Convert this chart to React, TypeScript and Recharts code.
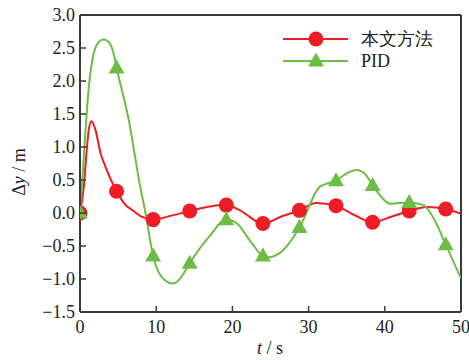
import React from "react";
import { LineChart, Line, XAxis, YAxis, ReferenceLine } from "recharts";

// Marker sample times (s)
const markerTimes = [0, 4.8, 9.6, 14.4, 19.2, 24, 28.8, 33.6, 38.4, 43.2, 48];
// Marker values
const oursMarkers = [0, 0.33, -0.1, 0.03, 0.12, -0.16, 0.04, 0.11, -0.14, 0.03, 0.06];
const pidMarkers = [0, 2.2, -0.65, -0.76, -0.1, -0.65, -0.22, 0.49, 0.42, 0.16, -0.48];

// Curve samples (s, m)
const oursT = [0, 0.5, 0.85, 1.15, 1.5, 2.03, 2.69, 3.34, 4.8, 6.0, 6.8, 8.0, 9.6, 12, 14.4, 17, 19.2, 21, 24, 26.5, 28.8, 31, 33.6, 36, 38.4, 41, 43.2, 45.5, 48, 50];
const oursY = [0, 0.4, 0.91, 1.26, 1.39, 1.26, 0.91, 0.7, 0.33, 0.12, 0.05, -0.05, -0.1, -0.04, 0.03, 0.1, 0.12, 0.04, -0.16, -0.05, 0.04, 0.15, 0.11, -0.03, -0.14, -0.05, 0.03, 0.09, 0.06, -0.01];
const pidT = [0, 0.3, 1.15, 1.8, 2.46, 3.1, 3.77, 4.4, 4.8, 6.4, 7.9, 8.6, 9.6, 10.8, 12.2, 13.3, 14.4, 17, 19.2, 20.6, 22.5, 24, 24.8, 26.7, 28.8, 31.5, 33.6, 35, 36.3, 37.5, 38.4, 39.5, 40.7, 43.2, 45.1, 46.5, 48, 50];
const pidY = [0, 0.5, 1.9, 2.42, 2.59, 2.63, 2.59, 2.42, 2.2, 1.41, 0.4, 0, -0.65, -0.98, -1.07, -0.97, -0.76, -0.35, -0.1, -0.16, -0.45, -0.65, -0.67, -0.56, -0.22, 0.4, 0.49, 0.6, 0.65, 0.58, 0.42, 0.25, 0.14, 0.16, 0.12, -0.1, -0.48, -0.99];

const xTicks = [0, 10, 20, 30, 40, 50];
const yTicks = [-1.5, -1.0, -0.5, 0.0, 0.5, 1.0, 1.5, 2.0, 2.5, 3.0];
const seriesNames = ["本文方法", "PID"];

const RED = "#ee1c25";
const GREEN = "#6cbd45";
const AXIS = "#3a3a3a";
const FONT = "Liberation Serif";

const oursCurve = oursT.map((t, i) => ({ t, v: oursY[i] }));
const pidCurve = pidT.map((t, i) => ({ t, v: pidY[i] }));
const oursPts = markerTimes.map((t, i) => ({ t, v: oursMarkers[i] }));
const pidPts = markerTimes.map((t, i) => ({ t, v: pidMarkers[i] }));

const fmt = (v: number) => {
  const s = Math.abs(v).toFixed(1);
  return v < 0 ? "\u2212" + s : s;
};

const XTick = (props: any) => {
  const { x, y, payload } = props;
  const axisY = y - 8;
  const v = payload.value;
  return (
    <g>
      {v > 0 && v < 50 && <line x1={x} x2={x} y1={axisY} y2={axisY - 6} stroke={AXIS} strokeWidth={1.5} />}
      <text x={x} y={y} dy={13} textAnchor="middle" fontSize={18} fontFamily={FONT} fill="#222">
        {v}
      </text>
    </g>
  );
};

const YTick = (props: any) => {
  const { x, y, payload } = props;
  const axisX = x + 5;
  const v = payload.value;
  return (
    <g>
      {v > -1.5 && v < 3 && <line x1={axisX} x2={axisX + 6} y1={y} y2={y} stroke={AXIS} strokeWidth={1.5} />}
      <text x={x} y={y} dy={6} textAnchor="end" fontSize={18} fontFamily={FONT} fill="#222">
        {fmt(v)}
      </text>
    </g>
  );
};

const Circle = (props: any) => {
  const { cx, cy } = props;
  if (cx == null || cy == null) return null;
  return <circle cx={cx} cy={cy} r={7.5} fill={RED} stroke="none" />;
};

const Tri = (props: any) => {
  const { cx, cy } = props;
  if (cx == null || cy == null) return null;
  const h = 14;
  const w = 16;
  return (
    <polygon
      points={`${cx},${cy - h * 0.6} ${cx - w / 2},${cy + h * 0.4} ${cx + w / 2},${cy + h * 0.4}`}
      fill={GREEN}
      stroke="none"
    />
  );
};

export default function App() {
  return (
    <div style={{ position: "absolute", left: 0, top: 0, width: 469, height: 360, background: "#fff" }}>
      <LineChart width={469} height={360} margin={{ top: 15, right: 8, bottom: 18, left: 20 }}>
        <XAxis
          dataKey="t"
          type="number"
          domain={[0, 50]}
          ticks={xTicks}
          allowDataOverflow
          axisLine={{ stroke: AXIS, strokeWidth: 2 }}
          tickLine={false}
          tickSize={0}
          tickMargin={8}
          height={30}
          tick={<XTick />}
        />
        <YAxis
          type="number"
          domain={[-1.5, 3]}
          ticks={yTicks}
          allowDataOverflow
          width={60}
          axisLine={{ stroke: AXIS, strokeWidth: 2 }}
          tickLine={false}
          tickSize={0}
          tickMargin={5}
          tick={<YTick />}
        />
        <ReferenceLine y={3} stroke={AXIS} strokeWidth={2} />
        <ReferenceLine x={50} stroke={AXIS} strokeWidth={2} />
        <Line data={oursCurve} dataKey="v" type="monotone" stroke={RED} strokeWidth={2} dot={false} isAnimationActive={false} />
        <Line data={pidCurve} dataKey="v" type="monotone" stroke={GREEN} strokeWidth={2} dot={false} isAnimationActive={false} />
        <Line data={oursPts} dataKey="v" stroke="none" dot={<Circle />} activeDot={false} isAnimationActive={false} />
        <Line data={pidPts} dataKey="v" stroke="none" dot={<Tri />} activeDot={false} isAnimationActive={false} />
      </LineChart>
      <svg width={469} height={360} style={{ position: "absolute", left: 0, top: 0, pointerEvents: "none" }}>
        <line x1={283} x2={348} y1={39} y2={39} stroke={RED} strokeWidth={2} />
        <circle cx={316} cy={39} r={7.5} fill={RED} />
        <text x={361} y={45} fontSize={18} fontFamily={FONT} fill="#222">{seriesNames[0]}</text>
        <line x1={283} x2={348} y1={61} y2={61} stroke={GREEN} strokeWidth={2} />
        <polygon points="316,52.5 308,66.5 324,66.5" fill={GREEN} />
        <text x={361} y={67} fontSize={18} fontFamily={FONT} fill="#222">{seriesNames[1]}</text>
        <text x={270} y={354} textAnchor="middle" fontSize={18} fontFamily={FONT} fill="#222">
          <tspan fontStyle="italic">t</tspan> / s
        </text>
        <text
          x={0}
          y={0}
          transform="translate(25,172) rotate(-90)"
          textAnchor="middle"
          fontSize={18}
          fontFamily={FONT}
          fill="#222"
        >
          Δ<tspan fontStyle="italic">y</tspan> / m
        </text>
      </svg>
    </div>
  );
}
